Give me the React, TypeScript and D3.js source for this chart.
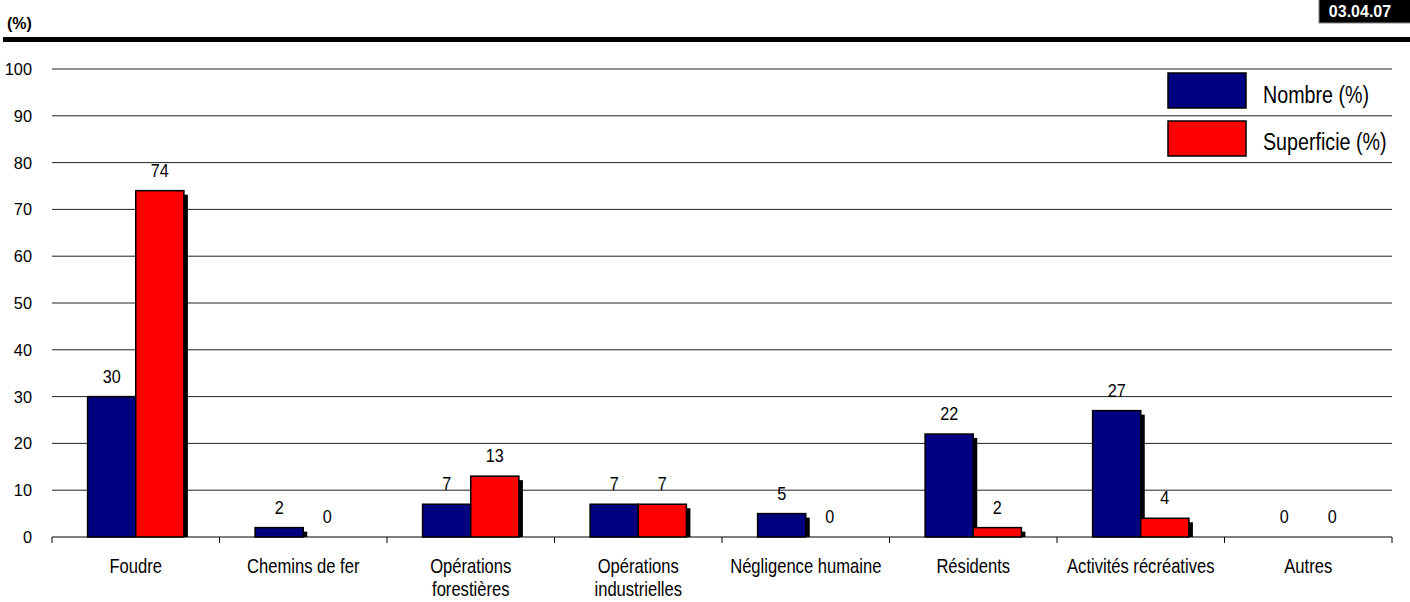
import React from "react";
import * as d3 from "d3";

const categories: string[][] = [
  ["Foudre"],
  ["Chemins de fer"],
  ["Opérations", "forestières"],
  ["Opérations", "industrielles"],
  ["Négligence humaine"],
  ["Résidents"],
  ["Activités récréatives"],
  ["Autres"],
];
const nombre = [30, 2, 7, 7, 5, 22, 27, 0];
const superficie = [74, 0, 13, 7, 0, 2, 4, 0];
const seriesNames = ["Nombre (%)", "Superficie (%)"];
const seriesColors = ["#000080", "#FF0000"];
const yTicks = [0, 10, 20, 30, 40, 50, 60, 70, 80, 90, 100];
const unitLabel = "(%)";
const codeLabel = "03.04.07";

const W = 1410;
const H = 602;
const FONT = "'Liberation Sans', Arial, Helvetica, sans-serif";

export default function App() {
  const left = 52;
  const right = 1392;
  const top = 69;
  const bottom = 537;
  const x = d3.scaleBand<number>().domain(d3.range(categories.length)).range([left, right]);
  const y = d3.scaleLinear().domain([0, 100]).range([bottom, top]);
  const groupW = x.bandwidth() * 0.575;
  const xs = d3.scaleBand<number>().domain([0, 1]).range([0, groupW]);
  const series = [nombre, superficie];
  const shadow = 4;

  const T = (props: any) => {
    const { x: tx, y: ty, sx = 0.88, children, ...rest } = props;
    return (
      <text transform={`translate(${tx},${ty}) scale(${sx},1)`} fontFamily={FONT} {...rest}>
        {children}
      </text>
    );
  };

  return (
    <svg width={W} height={H} style={{ position: "absolute", left: 0, top: 0, background: "#fff" }}>
      {/* header */}
      <T x={7} y={29} fontSize={16} fontWeight="bold" sx={1}>{unitLabel}</T>
      <rect x={3} y={37} width={W - 3} height={5} fill="#000" />
      <rect x={1319} y={-1} width={92} height={24} fill="#000" stroke="#888" strokeWidth={1} />
      <T x={1360} y={17} fontSize={16} fontWeight="bold" fill="#fff" textAnchor="middle" sx={1}>{codeLabel}</T>

      {/* gridlines */}
      {yTicks.map((t) => (
        <g key={t}>
          <line x1={left} x2={right} y1={y(t)} y2={y(t)} stroke={t === 0 ? "#000" : "#222"} strokeWidth={1} />
          <T x={32} y={y(t) + 6} fontSize={17} textAnchor="end" sx={0.96}>{t}</T>
        </g>
      ))}

      {/* category ticks */}
      {d3.range(categories.length + 1).map((i) => {
        const tx = left + i * x.step();
        return <line key={i} x1={tx} x2={tx} y1={bottom} y2={bottom + 6} stroke="#000" strokeWidth={1} />;
      })}

      {/* shadows */}
      {series.map((vals, s) =>
        vals.map((v, i) => {
          if (v <= 0) return null;
          const bx = (x(i) as number) + (x.bandwidth() - groupW) / 2 + (xs(s) as number);
          const by = y(v);
          return (
            <rect key={`sh${s}-${i}`} x={bx + shadow} y={by + shadow} width={xs.bandwidth()} height={Math.max(0, bottom - by - shadow)} fill="#000" />
          );
        })
      )}

      {/* bars */}
      {series.map((vals, s) =>
        vals.map((v, i) => {
          if (v <= 0) return null;
          const bx = (x(i) as number) + (x.bandwidth() - groupW) / 2 + (xs(s) as number);
          const by = y(v);
          return (
            <rect key={`b${s}-${i}`} x={bx} y={by} width={xs.bandwidth()} height={bottom - by} fill={seriesColors[s]} stroke="#000" strokeWidth={1.5} />
          );
        })
      )}

      {/* value labels */}
      {series.map((vals, s) =>
        vals.map((v, i) => {
          const bx = (x(i) as number) + (x.bandwidth() - groupW) / 2 + (xs(s) as number) + xs.bandwidth() / 2;
          return (
            <T key={`l${s}-${i}`} x={bx} y={y(v) - 14} fontSize={18} textAnchor="middle" sx={0.9}>{v}</T>
          );
        })
      )}

      {/* category labels */}
      {categories.map((lines, i) => (
        <g key={`c${i}`}>
          {lines.map((ln, k) => (
            <T key={k} x={(x(i) as number) + x.bandwidth() / 2} y={573 + k * 23} fontSize={20} textAnchor="middle" sx={0.83}>{ln}</T>
          ))}
        </g>
      ))}

      {/* legend */}
      {seriesNames.map((n, s) => (
        <g key={`lg${s}`}>
          <rect x={1168} y={73 + s * 48} width={78} height={35} fill={seriesColors[s]} stroke="#000" strokeWidth={1.5} />
          <T x={1263} y={103 + s * 47} fontSize={24} sx={0.82}>{n}</T>
        </g>
      ))}
    </svg>
  );
}
